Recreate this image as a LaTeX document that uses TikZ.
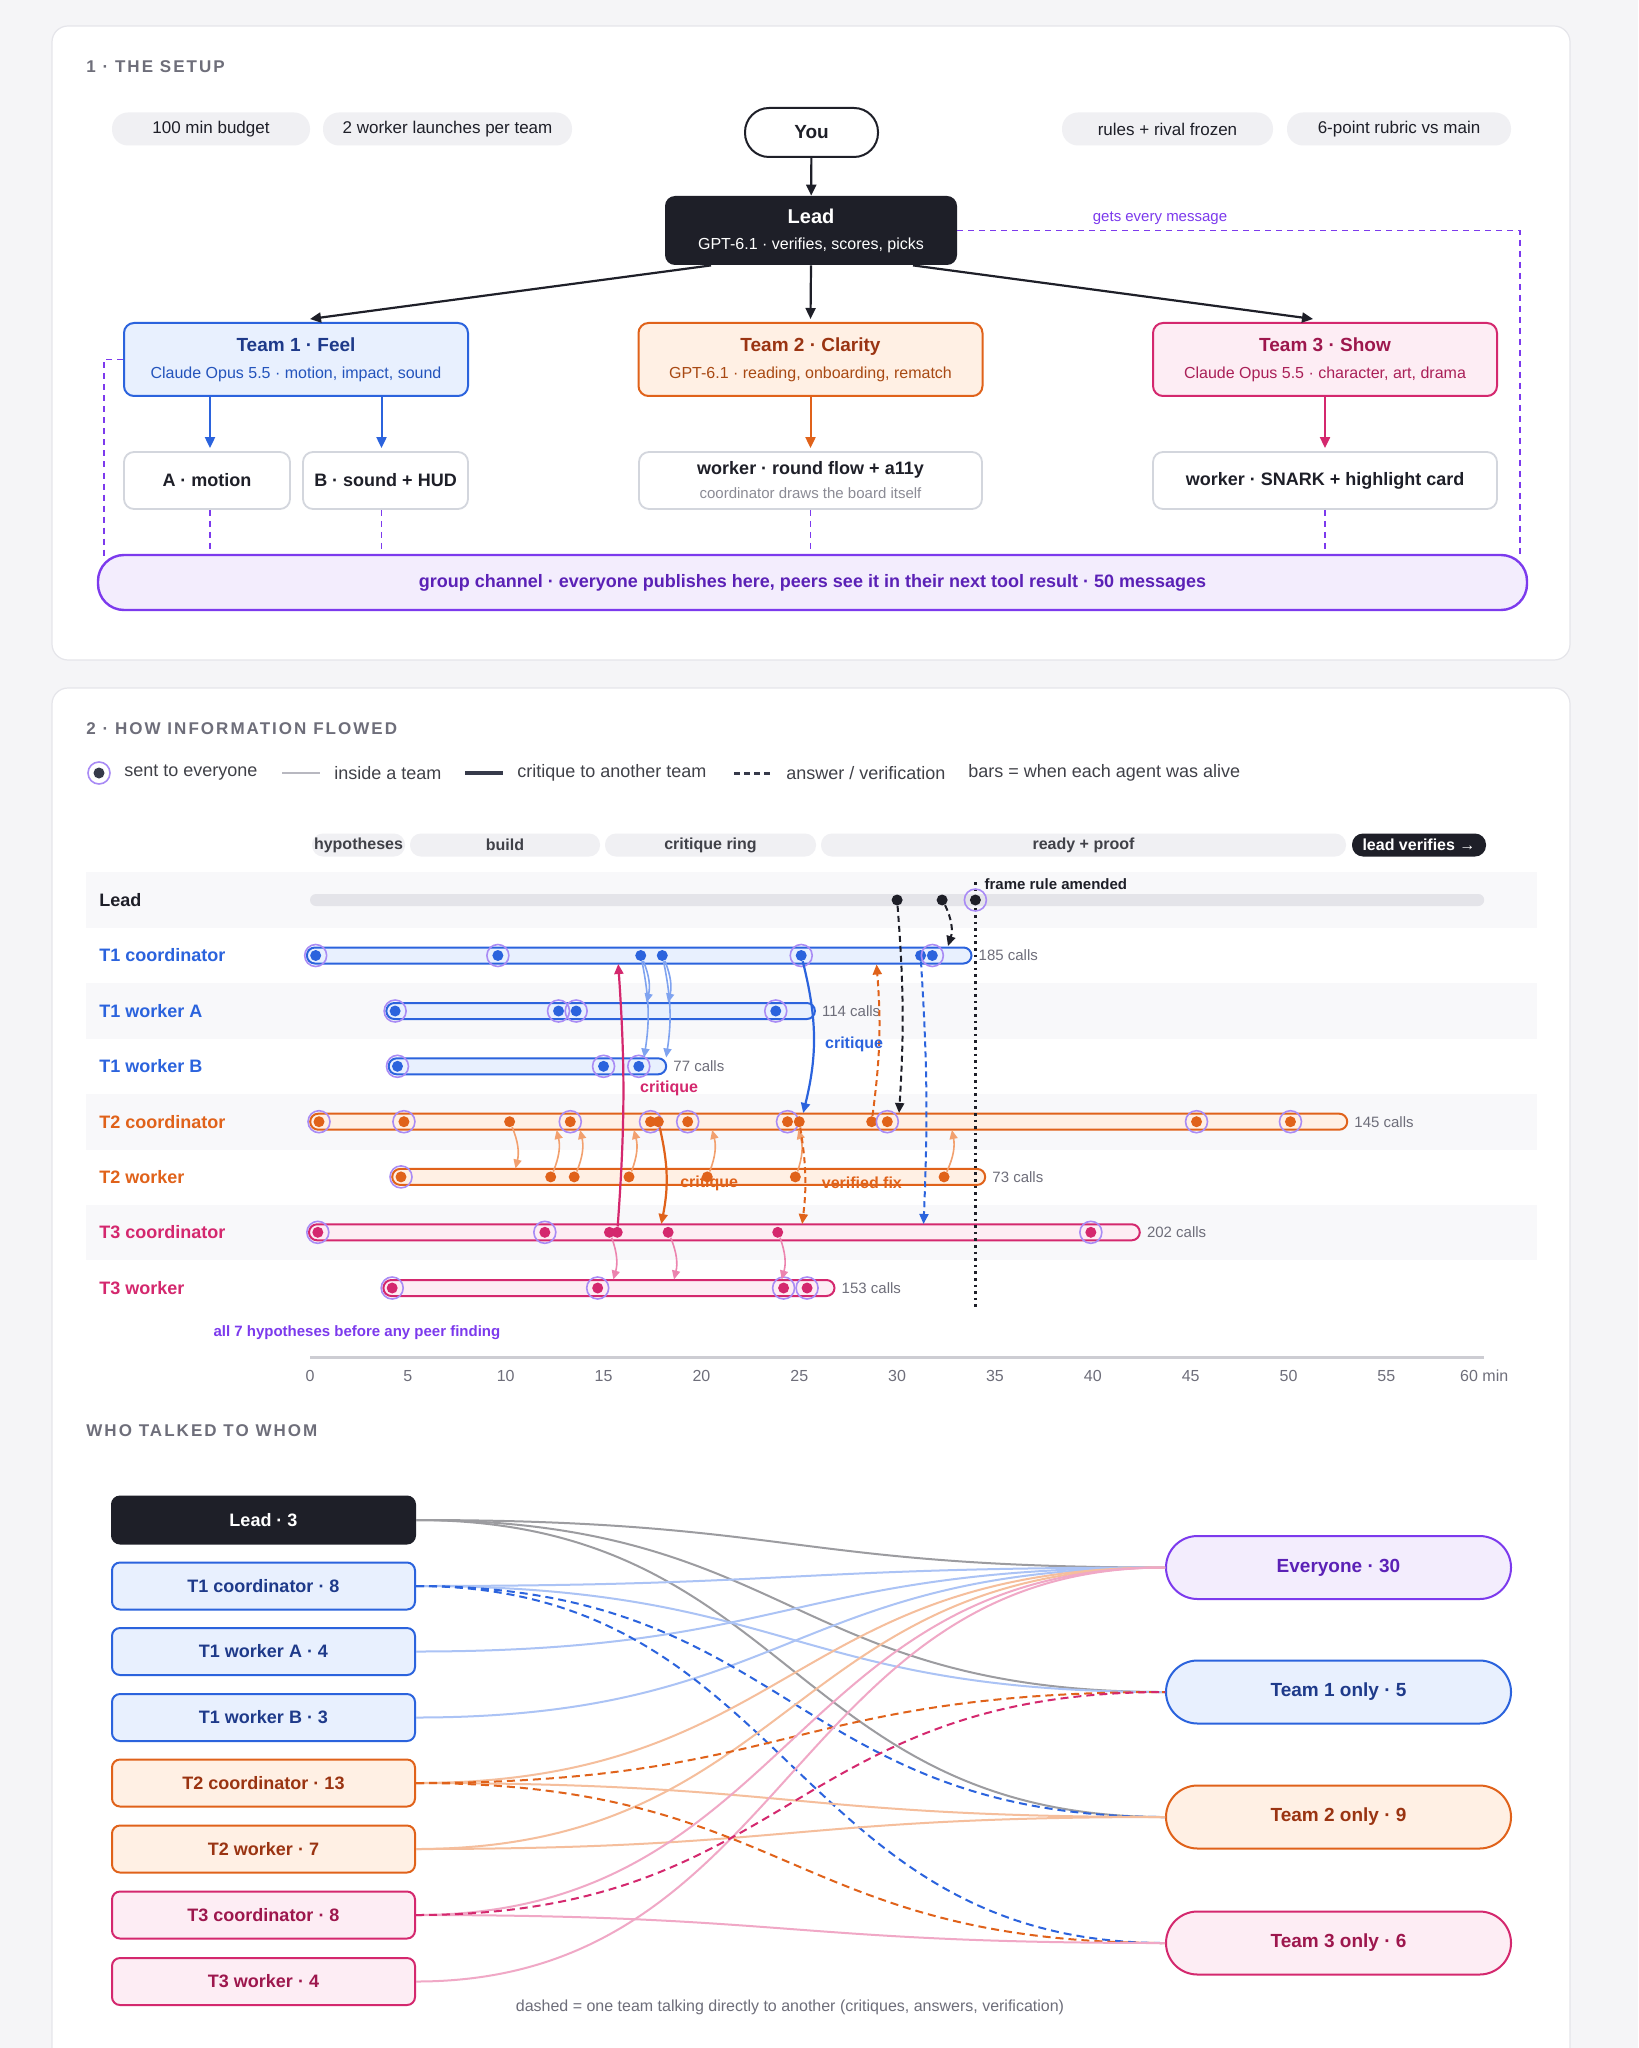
\documentclass[tikz,border=0pt]{standalone}
\usepackage{fontspec}
\setmainfont{Liberation Sans}
\usetikzlibrary{arrows.meta,positioning,calc}

\definecolor{ink}{HTML}{1E1F28}
\colorlet{inkfill}{ink}
\definecolor{pagebg}{HTML}{F5F5F7}
\definecolor{cardline}{HTML}{E5E5EA}
\definecolor{pillbg}{HTML}{F0F0F3}
\definecolor{rowshade}{HTML}{F8F8FA}
\definecolor{muted}{HTML}{6E6E7A}
\definecolor{workline}{HTML}{D3D6DD}
\definecolor{leadbarc}{HTML}{E4E4E9}
\definecolor{legdark}{HTML}{363A4A}
\definecolor{legline}{HTML}{B8B8C0}
\definecolor{tblue}{HTML}{2B63DD}
\definecolor{tbluefill}{HTML}{E8F0FE}
\definecolor{tbluetext}{HTML}{1E3A8A}
\definecolor{torange}{HTML}{E0621A}
\definecolor{torangefill}{HTML}{FFF0E4}
\definecolor{torangetext}{HTML}{9A3412}
\definecolor{tpink}{HTML}{D4286E}
\definecolor{tpinkfill}{HTML}{FDEDF4}
\definecolor{tpinktext}{HTML}{9D174D}
\definecolor{tpurple}{HTML}{7C3AED}
\definecolor{tpurplefill}{HTML}{F3EDFD}
\definecolor{tpurpletext}{HTML}{5B21B6}
\definecolor{ringc}{HTML}{A98BF5}
\definecolor{lblue}{HTML}{7FA3F0}
\definecolor{lorange}{HTML}{F2A06E}
\definecolor{lpink}{HTML}{EC84AF}
\definecolor{wblue}{HTML}{ABC3F5}
\definecolor{worange}{HTML}{F5BE9C}
\definecolor{wpink}{HTML}{F0A8C6}
\definecolor{wgray}{HTML}{9C9CA0}

\newcommand{\fsz}[1]{\fontsize{#1}{\fpeval{1.2*#1}}\selectfont}

\pgfdeclarelayer{back}
\pgfdeclarelayer{bg}
\pgfsetlayers{back,bg,main}

\tikzset{
  card/.style={fill=white, draw=cardline, line width=0.6pt, rounded corners=8pt},
  sectitle/.style={anchor=west, inner sep=0pt, text=muted, font=\bfseries\fsz{8.5}\addfontfeatures{LetterSpace=12}},
  pill/.style={fill=pillbg, rounded corners=8pt, minimum height=16.5pt, inner sep=0pt, font=\fsz{8.5}, text=ink},
  youbox/.style={draw=ink, fill=white, line width=1pt, rounded corners=12pt, minimum width=66.5pt, minimum height=24.5pt, font=\bfseries\fsz{9.5}, text=ink},
  leadbox/.style={fill=ink, text=white, rounded corners=5pt, minimum width=146pt, minimum height=34.5pt, align=center, inner sep=0pt, font=\fontsize{8}{10}\selectfont},
  teambox/.style={draw=#1, fill=#1fill, line width=1pt, rounded corners=5pt, minimum width=172pt, minimum height=36.5pt, align=center, inner sep=0pt, font=\fontsize{8}{10}\selectfont},
  workbox/.style={draw=workline, fill=white, line width=0.9pt, rounded corners=5pt, minimum height=28.5pt, align=center, inner sep=0pt, font=\bfseries\fontsize{9}{10}\selectfont, text=ink},
  chanbox/.style={draw=tpurple, fill=tpurplefill, line width=1.2pt, rounded corners=13pt, minimum width=714.5pt, minimum height=27.5pt, font=\bfseries\fsz{9}, text=tpurpletext},
  darkarrow/.style={draw=ink, line width=1.1pt, -{Triangle[length=5.5pt,width=5pt]}},
  teamarrow/.style={draw=#1, line width=1pt, -{Triangle[length=5.5pt,width=5pt]}},
  chandash/.style={draw=tpurple, line width=0.9pt, dash pattern=on 3pt off 2.5pt},
  small/.style={font=\fsz{7.5}, text=#1, inner sep=0pt},
  legtext/.style={anchor=west, inner sep=0pt, font=\fsz{9}, text=ink!85},
  phase/.style={fill=pillbg, rounded corners=5.5pt, minimum height=11.5pt, inner sep=0pt, font=\bfseries\fsz{8}, text=ink!85},
  rowband/.style={fill=rowshade},
  rowlabel/.style={anchor=west, inner sep=0pt, font=\bfseries\fsz{9}, text=#1},
  bar/.style={draw=#1, fill=#1fill, line width=1pt, rounded corners=4pt},
  leadbar/.style={fill=leadbarc, rounded corners=3pt},
  dot/.style={circle, fill=#1, inner sep=0pt, minimum size=5.5pt},
  ring/.style={circle, draw=ringc, line width=0.8pt, inner sep=0pt, minimum size=11pt},
  calls/.style={anchor=west, inner sep=0pt, font=\fsz{7.5}, text=muted},
  inarrow/.style={draw=#1, line width=0.8pt, -{Triangle[length=4.5pt,width=4pt]}},
  critarrow/.style={draw=#1, line width=1.1pt, -{Triangle[length=5pt,width=4.5pt]}},
  ansarrow/.style={draw=#1, line width=1pt, dash pattern=on 3pt off 2pt, -{Triangle[length=5pt,width=4.5pt]}},
  flowlabel/.style={font=\bfseries\fsz{8}, text=#1, inner sep=0pt},
  verifline/.style={draw=ink, line width=1.3pt, dash pattern=on 1.3pt off 2pt},
  ticklab/.style={font=\fsz{8}, text=muted, inner sep=0pt},
  whobox/.style={draw=#1, fill=#1fill, line width=1pt, rounded corners=4pt, minimum width=151.5pt, minimum height=23.5pt, inner sep=0pt, font=\bfseries\fsz{9}},
  destbox/.style={draw=#1, fill=#1fill, line width=1pt, rounded corners=15.75pt, minimum width=172.5pt, minimum height=31.5pt, inner sep=0pt, font=\bfseries\fsz{9.5}},
  talk/.style={draw=#1, line width=1pt},
  talkdash/.style={draw=#1, line width=1pt, dash pattern=on 4pt off 2.5pt},
}

% dots of one timeline row: prefix, colour, y, list of minute/ring
\newcommand{\rowdots}[4]{%
  \foreach \m/\r [count=\i] in {#4}{%
    \node[dot=#2] (#1\i) at (\m,#3) {};
    \ifnum\r=1 \node[ring] (#1r\i) at (\m,#3) {};\fi
  }%
}
% one who-talked-to-whom curve
\newcommand{\talkline}[3]{\draw[#1] (#2.east) .. controls +(375,0) and +(-375,0) .. (#3.west);}

\begin{document}
\begin{tikzpicture}[x=0.5pt, y=-0.5pt]
\useasboundingbox (0,0) rectangle (1638,2048);
\clip (0,0) rectangle (1638,2048);
\begin{pgfonlayer}{back}
  \fill[pagebg] (0,0) rectangle (1638,2048);
  \draw[card] (52,26) rectangle (1570,660);
  \draw[card] (52,688) rectangle (1570,2120);
\end{pgfonlayer}

% ---- 1 · the setup
\node[sectitle] (title1) at (86,67) {1 · THE SETUP};
\node[pill, minimum width=99pt] (budget) at (211,129) {100 min budget};
\node[pill, minimum width=124.5pt] (launch) at (447.5,129) {2 worker launches per team};
\node[pill, minimum width=105.5pt] (frozen) at (1167.5,129) {rules + rival frozen};
\node[pill, minimum width=112pt] (rubric) at (1399,129) {6-point rubric vs main};

\node[youbox] (you) at (811.5,132.5) {You};
\node[leadbox] (lead) at (811,230.5) {{\bfseries\fontsize{10}{10}\selectfont Lead}\\[3pt]GPT-6.1 · verifies, scores, picks};

\node[teambox=tblue] (team1) at (296,359.5) {{\bfseries\fontsize{9.5}{10}\selectfont\color{tbluetext}Team 1 · Feel}\\[3.5pt]\color{tblue!85!black}Claude Opus 5.5 · motion, impact, sound};
\node[teambox=torange] (team2) at (810.5,359.5) {{\bfseries\fontsize{9.5}{10}\selectfont\color{torangetext}Team 2 · Clarity}\\[3.5pt]\color{torange!75!black}GPT-6.1 · reading, onboarding, rematch};
\node[teambox=tpink] (team3) at (1325,359.5) {{\bfseries\fontsize{9.5}{10}\selectfont\color{tpinktext}Team 3 · Show}\\[3.5pt]\color{tpink!80!black}Claude Opus 5.5 · character, art, drama};

\node[workbox, minimum width=83pt] (wA) at (207,480.5) {A · motion};
\node[workbox, minimum width=82.5pt] (wB) at (385.5,480.5) {B · sound + HUD};
\node[workbox, minimum width=171.5pt] (w2) at (810.5,480.5) {worker · round flow + a11y\\[2pt]{\mdseries\fontsize{7.5}{9}\selectfont\color{muted!80}coordinator draws the board itself}};
\node[workbox, minimum width=172pt] (w3) at (1325,480.5) {worker · SNARK + highlight card};

\node[chanbox] (chan) at (812.5,582.5) {group channel · everyone publishes here, peers see it in their next tool result · 50 messages};

\draw[darkarrow] (you) -- (lead);
\draw[darkarrow] ($(lead.south)+(-100,0)$) -- ($(team1.north)+(14,-3)$);
\draw[darkarrow] (lead.south) -- ($(team2.north)+(0,-3)$);
\draw[darkarrow] ($(lead.south)+(102,0)$) -- ($(team3.north)+(-12,-3)$);

\draw[teamarrow=tblue] ($(team1.south -| wA.north)+(3,0)$) -- ($(wA.north)+(3,-3)$);
\draw[teamarrow=tblue] ($(team1.south -| wB.north)+(-4,0)$) -- ($(wB.north)+(-4,-3)$);
\draw[teamarrow=torange] (team2.south) -- ($(w2.north)+(0,-3)$);
\draw[teamarrow=tpink] (team3.south) -- ($(w3.north)+(0,-3)$);

\foreach \w/\dx in {wA/3,wB/-4,w2/0,w3/0}
  \draw[chandash] ($(\w.south)+(\dx,0)$) -- ($(\w.south |- chan.north)+(\dx,0)$);
\draw[chandash] (team1.west) -| (104,556);
\draw[chandash] (lead.east) -| (1520,556);
\node[small=tpurple] (every) at (1160,218) {gets every message};

% ---- 2 · how information flowed
\node[sectitle] (title2) at (86,729) {2 · HOW INFORMATION FLOWED};
\node[ring] (legring) at (99,773) {};
\node[dot=legdark] (legdot) at (99,773) {};
\node[legtext] (leg1) at (124,773) {sent to everyone};
\draw[draw=legline, line width=0.8pt] (282,773) -- (320,773);
\node[legtext] (leg2) at (334,773) {inside a team};
\draw[draw=legdark, line width=2pt] (465,773) -- (503,773);
\node[legtext] (leg3) at (517,773) {critique to another team};
\draw[draw=legdark, line width=1.5pt, dash pattern=on 3pt off 2pt] (734,773) -- (773,773);
\node[legtext] (leg4) at (786,773) {answer / verification};
\node[legtext] (leg5) at (968,773) {bars = when each agent was alive};

\node[phase, minimum width=46.5pt] (ph1) at (358.5,845) {hypotheses};
\node[phase, minimum width=95pt] (ph2) at (505,845) {build};
\node[phase, minimum width=105.5pt] (ph3) at (710.5,845) {critique ring};
\node[phase, minimum width=262.5pt] (ph4) at (1083.5,845) {ready + proof};
\node[phase, minimum width=67pt, fill=ink, text=white] (ph5) at (1419,845) {lead verifies →};

\begin{pgfonlayer}{bg}
  \foreach \yy in {900,1010.75,1121.75,1232.5}
    \fill[rowband] (86,\yy-27.75) rectangle (1537,\yy+27.75);
\end{pgfonlayer}
\foreach \lab/\cc/\yy [count=\k] in {Lead/ink/900, T1 coordinator/tblue/955.5, T1 worker A/tblue/1011, T1 worker B/tblue/1066.3, T2 coordinator/torange/1121.7, T2 worker/torange/1176.9, T3 coordinator/tpink/1232.3, T3 worker/tpink/1288}
  \node[rowlabel=\cc] (row\k) at (99,\yy) {\lab};

\begin{scope}[xshift=155pt, x=9.785pt]
  \begin{pgfonlayer}{bg}
    \fill[leadbar] (0,894) rectangle (60,906);
    \foreach \st/\en/\yy/\cc in {-0.16/33.8/955.5/tblue, 3.9/25.8/1011/tblue, 4.02/18.2/1066.3/tblue, 0.01/53.0/1121.7/torange, 4.2/34.5/1176.9/torange, -0.05/42.4/1232.3/tpink, 3.75/26.8/1288/tpink}
      \draw[bar=\cc] (\st,\yy-8) rectangle (\en,\yy+8);
    \draw[verifline] (34,882) -- (34,1308);
  \end{pgfonlayer}
  \node[calls] (c1) at (34.15,955.5) {185 calls};
  \node[calls] (c2) at (26.15,1011) {114 calls};
  \node[calls] (c3) at (18.55,1066.3) {77 calls};
  \node[calls] (c4) at (53.35,1121.7) {145 calls};
  \node[calls] (c5) at (34.85,1176.9) {73 calls};
  \node[calls] (c6) at (42.75,1232.3) {202 calls};
  \node[calls] (c7) at (27.15,1288) {153 calls};
  \node[anchor=west, inner sep=0pt, font=\bfseries\fsz{7.5}, text=ink] (amend) at (34.45,884) {frame rule amended};

  \rowdots{lead}{ink}{900}{30.0/0,32.3/0,34.0/1}
  \rowdots{t1c}{tblue}{955.5}{0.29/1,9.6/1,16.9/0,18.0/0,25.1/1,31.2/0,31.8/1}
  \rowdots{t1a}{tblue}{1011}{4.35/1,12.7/1,13.6/1,23.8/1}
  \rowdots{t1b}{tblue}{1066.3}{4.47/1,15.0/1,16.8/1}
  \rowdots{t2c}{torange}{1121.7}{0.46/1,4.8/1,10.2/0,13.3/1,17.4/1,17.8/0,19.3/1,24.4/1,25.0/0,28.7/0,29.5/1,45.3/1,50.1/1}
  \rowdots{t2w}{torange}{1176.9}{4.65/1,12.3/0,13.5/0,16.3/0,20.3/0,24.8/0,32.4/0}
  \rowdots{t3c}{tpink}{1232.3}{0.4/1,12.0/1,15.3/0,15.7/0,18.3/0,23.9/0,39.9/1}
  \rowdots{t3w}{tpink}{1288}{4.2/1,14.7/1,24.2/1,25.4/1}

  % inside a team
  \coordinate (hA1) at (17.2,1002.5);
  \coordinate (hB1) at (17.07,1057.5);
  \coordinate (hA2) at (18.3,1002.5);
  \coordinate (hB2) at (18.2,1057.5);
  \draw[inarrow=lblue] (t1c3) to[bend left=18] (hA1);
  \draw[inarrow=lblue] (t1c3) to[bend left=10] (hB1);
  \draw[inarrow=lblue] (t1c4) to[bend left=18] (hA2);
  \draw[inarrow=lblue] (t1c4) to[bend left=10] (hB2);
  \coordinate (h2c) at (10.5,1168.5);
  \draw[inarrow=lorange] (t2c3) to[bend left=18] (h2c);
  \foreach \k/\xe in {2/12.6, 3/13.8, 4/16.55, 5/20.55, 6/24.95, 7/32.8}{
    \coordinate (h2w\k) at (\xe,1130);
    \draw[inarrow=lorange] (t2w\k) to[bend right=18] (h2w\k);
  }
  \foreach \k/\xe in {3/15.5, 5/18.6, 6/24.1}{
    \coordinate (h3w\k) at (\xe,1279.5);
    \draw[inarrow=lpink] (t3c\k) to[bend left=18] (h3w\k);
  }

  % critiques to another team
  \coordinate (hc1) at (15.75,964);
  \draw[critarrow=tpink] (t3c4) to[bend right=4] (hc1);
  \coordinate (hc2) at (25.2,1113);
  \draw[critarrow=tblue] (t1c5) to[bend left=14] (hc2);
  \coordinate (hc3) at (17.95,1224);
  \draw[critarrow=torange] (t2c6) to[bend left=12] (hc3);

  % answers and verification
  \coordinate (ha1) at (28.95,964.5);
  \draw[ansarrow=torange] (t2c10) to[bend right=6] (ha1);
  \coordinate (ha2) at (30.1,1113);
  \draw[ansarrow=ink] (lead1) to[bend left=4] (ha2);
  \coordinate (ha3) at (32.6,946);
  \draw[ansarrow=ink] (lead2) to[bend left=22] (ha3);
  \coordinate (ha4) at (31.35,1224);
  \draw[ansarrow=tblue] (t1c6) to[bend left=3] (ha4);
  \coordinate (ha5) at (25.15,1224);
  \draw[ansarrow=torange] (t2c9) to[bend left=8] (ha5);

  \node[flowlabel=tpink] (lbl1) at (18.35,1088) {critique};
  \node[flowlabel=tblue] (lbl2) at (27.8,1044) {critique};
  \node[flowlabel=torange] (lbl3) at (20.4,1183) {critique};
  \node[flowlabel=torange] (lbl4) at (28.2,1183) {verified fix};

  \node[anchor=west, inner sep=0pt, font=\bfseries\fsz{7.5}, text=tpurple] (hyp) at (-4.95,1333) {all 7 hypotheses before any peer finding};

  % time axis
  \draw[draw=legline!70, line width=1.5pt] (0,1357) -- (60,1357);
  \foreach \t in {0,5,...,55}
    \node[ticklab] (tick\t) at (\t,1376) {\t};
  \node[ticklab] (tick60) at (60,1376) {60 min};
\end{scope}

% ---- who talked to whom
\node[sectitle] (title3) at (86,1431) {WHO TALKED TO WHOM};
\node[whobox=ink, text=white] (wlead) at (263.5,1520) {Lead · 3};
\node[whobox=tblue, text=tbluetext] (wt1c) at (263.5,1586) {T1 coordinator · 8};
\node[whobox=tblue, text=tbluetext] (wt1a) at (263.5,1651.5) {T1 worker A · 4};
\node[whobox=tblue, text=tbluetext] (wt1b) at (263.5,1717.5) {T1 worker B · 3};
\node[whobox=torange, text=torangetext] (wt2c) at (263.5,1783) {T2 coordinator · 13};
\node[whobox=torange, text=torangetext] (wt2w) at (263.5,1849) {T2 worker · 7};
\node[whobox=tpink, text=tpinktext] (wt3c) at (263.5,1915) {T3 coordinator · 8};
\node[whobox=tpink, text=tpinktext] (wt3w) at (263.5,1981.5) {T3 worker · 4};

\node[destbox=tpurple, text=tpurpletext] (dall) at (1338.5,1567.5) {Everyone · 30};
\node[destbox=tblue, text=tbluetext] (dt1) at (1338.5,1692) {Team 1 only · 5};
\node[destbox=torange, text=torangetext] (dt2) at (1338.5,1817) {Team 2 only · 9};
\node[destbox=tpink, text=tpinktext] (dt3) at (1338.5,1943) {Team 3 only · 6};

\talkline{talk=wgray}{wlead}{dall}
\talkline{talk=wgray}{wlead}{dt1}
\talkline{talk=wgray}{wlead}{dt2}
\talkline{talk=wblue}{wt1c}{dall}
\talkline{talk=wblue}{wt1a}{dall}
\talkline{talk=wblue}{wt1b}{dall}
\talkline{talk=wblue}{wt1c}{dt1}
\talkline{talkdash=tblue}{wt1c}{dt2}
\talkline{talkdash=tblue}{wt1c}{dt3}
\talkline{talk=worange}{wt2c}{dall}
\talkline{talk=worange}{wt2w}{dall}
\talkline{talk=worange}{wt2c}{dt2}
\talkline{talk=worange}{wt2w}{dt2}
\talkline{talkdash=torange}{wt2c}{dt1}
\talkline{talkdash=torange}{wt2c}{dt3}
\talkline{talk=wpink}{wt3c}{dall}
\talkline{talk=wpink}{wt3w}{dall}
\talkline{talk=wpink}{wt3c}{dt3}
\talkline{talkdash=tpink}{wt3c}{dt1}

\node[font=\fsz{8}, text=muted, inner sep=0pt] (dashnote) at (790,2007) {dashed = one team talking directly to another (critiques, answers, verification)};
\end{tikzpicture}
\end{document}
